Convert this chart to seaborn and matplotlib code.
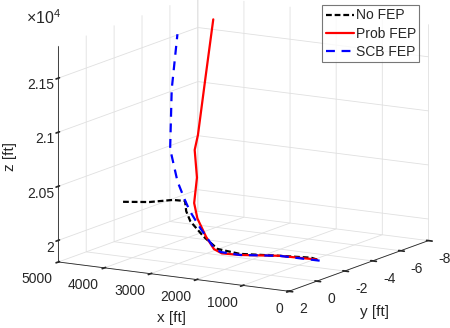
import numpy as np
import pandas as pd
import matplotlib
matplotlib.use("Agg")
import matplotlib.pyplot as plt
from matplotlib.ticker import FuncFormatter
import seaborn as sns

# ---- data (ft) ----
no_x = [0, 123, 825, 1640, 2060, 2300, 2500, 2530, 2555, 2820, 3330, 3943]
no_y = [0, 0, 0, 0.1, 0.3, 0.5, 0.8, 1.0, 1.0, 1.0, 1.0, 1.0]
no_z = [20000, 20010, 19990, 19968, 20000, 20109, 20255, 20357, 20450, 20445, 20398, 20367]

prob_x = [0, 825, 1640, 2000, 2170, 2340, 2560, 2660, 2690, 2830, 2880, 3470, 4060]
prob_y = [0, 0, 0.1, 0.2, 0.2, 0.2, 0.1, 0.0, -0.3, -0.6, -1.0, -3.5, -6.0]
prob_z = [20000, 19990, 19958, 19958, 19988, 20092, 20246, 20378, 20598, 20832, 20950, 21340, 21720]

scb_x = [0, 825, 1640, 2030, 2170, 2400, 2600, 2710, 2870, 3090, 3600, 3930]
scb_y = [-0.2, 0, 0.1, 0.2, 0.3, 0.4, 0.5, 0.5, 0.5, 0.3, -1.5, -3.0]
scb_z = [19980, 19990, 19958, 19969, 20023, 20175, 20329, 20427, 20590, 20870, 21310, 21730]

x_ticks = [0, 1000, 2000, 3000, 4000, 5000]
y_ticks = [-8, -6, -4, -2, 0, 2]
z_ticks = [20000, 20500, 21000, 21500]

series = [
    ("No FEP", no_x, no_y, no_z),
    ("Prob FEP", prob_x, prob_y, prob_z),
    ("SCB FEP", scb_x, scb_y, scb_z),
]
df = pd.concat([pd.DataFrame({"name": n, "x": x, "y": y, "z": z}) for n, x, y, z in series])

sns.set_theme(style="white")
plt.rcParams["font.family"] = ["Liberation Sans", "DejaVu Sans"]
plt.rcParams["axes.unicode_minus"] = False

styles = {
    "No FEP": dict(color="black", dashes=(2.6, 1.3)),
    "Prob FEP": dict(color="red", dashes=None),
    "SCB FEP": dict(color="blue", dashes=(4.0, 3.0)),
}

fig = plt.figure(figsize=(4.5, 3.28), dpi=100)
ax = fig.add_axes([0.031, 0.05, 1.0, 1.0], projection="3d")
ax.set_proj_type("ortho")
ax.view_init(elev=12.4, azim=120.6)
ax.set_box_aspect((265, 271, 219), zoom=1.31)

for name, g in df.groupby("name", sort=False):
    st = styles[name]
    line, = ax.plot(g["x"], g["y"], g["z"], color=st["color"], lw=1.6, label=name)
    if st["dashes"] is not None:
        line.set_dashes(st["dashes"])

ax.set_xlim(0, 5000)
ax.set_ylim(-8, 2)
ax.set_zlim(19800, 21800)
ax.set_xticks(x_ticks)
ax.set_yticks(y_ticks)
ax.set_zticks(z_ticks)
ax.zaxis.set_major_formatter(FuncFormatter(lambda v, p: f"{v/1e4:g}"))
ax.zaxis.set_ticks_position("upper")
ax.zaxis.set_label_position("upper")

for axis in (ax.xaxis, ax.yaxis, ax.zaxis):
    axis.set_pane_color((1, 1, 1, 0))
    axis.pane.set_edgecolor((1, 1, 1, 0))
    axis._axinfo["grid"]["color"] = (0.88, 0.88, 0.88, 1)
    axis._axinfo["grid"]["linewidth"] = 0.6
    axis._axinfo["axisline"]["color"] = (0.45, 0.45, 0.45, 1)
    axis._axinfo["tick"]["color"] = (0.45, 0.45, 0.45, 1)
    axis.line.set_linewidth(0.6)
ax.grid(True)
ax.tick_params(labelsize=10, colors="#262626")
ax.tick_params(axis="x", pad=-3.2)
ax.tick_params(axis="y", pad=-2.5)
ax.tick_params(axis="z", pad=-6.7)
for lab in ax.zaxis.get_majorticklabels():
    lab.set_horizontalalignment("right")
for lab in ax.xaxis.get_majorticklabels():
    lab.set_horizontalalignment("right")
for lab in ax.yaxis.get_majorticklabels():
    lab.set_horizontalalignment("left")
ax.set_zlabel("z [ft]", fontsize=11, labelpad=-5)
ax.text2D(0.382, 0.030, "x [ft]", transform=fig.transFigure, fontsize=11,
          ha="center", va="center", color="#262626")
ax.text2D(0.833, 0.049, "y [ft]", transform=fig.transFigure, fontsize=11,
          ha="center", va="center", color="#262626")

fig.text(0.058, 0.928, r"$\mathregular{\times10^{4}}$", fontsize=11.5, color="#262626", va="baseline")

leg = fig.legend(loc="upper right", bbox_to_anchor=(0.932, 0.985), frameon=True,
                 fancybox=False, fontsize=10, handlelength=2.0, handletextpad=0.15,
                 borderpad=0.25, labelspacing=0.3, borderaxespad=0)
leg.get_frame().set_edgecolor("#555555")
leg.get_frame().set_linewidth(0.8)

fig.savefig("out.png", dpi=100)
